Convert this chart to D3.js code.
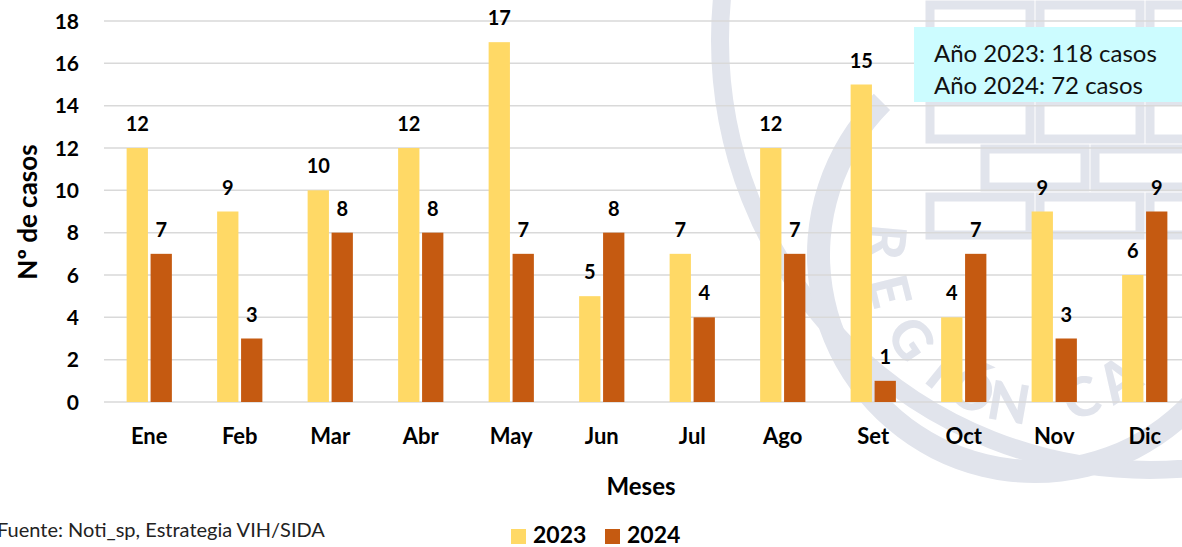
<!DOCTYPE html>
<html>
<head>
<meta charset="utf-8">
<script src="https://cdn.jsdelivr.net/npm/d3@7"></script>
<style>
  body { margin: 0; background: #fff; }
  svg { display: block; font-family: Lato, "Open Sans", sans-serif; }
  .tick-lbl { font-size: 21px; font-weight: 700; fill: #000; }
  .cat-lbl { font-size: 22px; font-weight: 700; fill: #000; text-anchor: middle; }
  .val-lbl { font-size: 20px; font-weight: 700; fill: #000; text-anchor: middle; }
</style>
</head>
<body>
<svg id="chart"></svg>
<script>
'use strict';

// data
const months = ['Ene', 'Feb', 'Mar', 'Abr', 'May', 'Jun', 'Jul', 'Ago', 'Set', 'Oct', 'Nov', 'Dic'];
const series = ['2023', '2024'];
const cases2023 = [12, 9, 10, 12, 17, 5, 7, 12, 15, 4, 9, 6];
const cases2024 = [7, 3, 8, 8, 7, 8, 4, 7, 1, 7, 3, 9];
const yTicks = [0, 2, 4, 6, 8, 10, 12, 14, 16, 18];
const colors = ['#FFD966', '#C55A11'];
const boxLines = ['Año 2023: 118 casos', 'Año 2024: 72 casos'];

const W = 1182, H = 547;
const plot = { left: 104, right: 1190, top: 21, bottom: 402 };
const wmColor = '#e1e4ec';

const svg = d3.select('#chart').attr('width', W).attr('height', H);

const x = d3.scaleBand().domain(months).range([plot.left, plot.right]).paddingInner(0.5).paddingOuter(0.25);
const xs = d3.scaleBand().domain(series).range([0, x.bandwidth()]).paddingInner(0.111);
const y = d3.scaleLinear().domain([0, 18]).range([plot.bottom, plot.top]);

// faint seal watermark in the background
const wm = svg.append('g').attr('fill', 'none').attr('stroke', wmColor);
wm.append('circle').attr('cx', 1150).attr('cy', 40).attr('r', 430).attr('stroke-width', 18);
const seal = { cx: 1035, cy: 255, r: 150 };
const ringArc = d3.arc().innerRadius(205).outerRadius(228)
  .startAngle(Math.PI * 0.55).endAngle(Math.PI * 1.75);
wm.append('path').attr('transform', 'translate(' + seal.cx + ',' + seal.cy + ')')
  .attr('d', ringArc()).attr('fill', wmColor).attr('stroke', 'none');
// bricks
[0, 1, 2, 3, 4].forEach(r => {
  const off = r % 2 ? 55 : 0;
  for (let c = 0; c < 4; c++) {
    wm.append('rect')
      .attr('x', 930 + off + c * 110).attr('y', 5 + r * 48)
      .attr('width', 100).attr('height', 38)
      .attr('stroke-width', 9);
  }
});
// seal lettering, one glyph at a time along the circle (rest runs off the page)
const wmLetters = 'REGIÓN CA'.split('');
const wmAngles = [185, 166, 146, 129, 115, 100, null, 72, 56];
wmLetters.forEach((ch, i) => {
  if (ch === ' ') return;
  const a = wmAngles[i] * Math.PI / 180;
  const px = seal.cx + seal.r * Math.cos(a), py = seal.cy + seal.r * Math.sin(a);
  svg.append('text')
    .attr('transform', 'translate(' + px + ',' + py + ') rotate(' + (wmAngles[i] - 90) + ')')
    .attr('text-anchor', 'middle').attr('dy', '0.35em')
    .attr('font-size', 54).attr('font-weight', 900).attr('fill', wmColor)
    .text(ch);
});

// gridlines
svg.append('g').selectAll('line').data(yTicks).join('line')
  .attr('x1', plot.left).attr('x2', W)
  .attr('y1', d => y(d)).attr('y2', d => y(d))
  .attr('stroke', '#d9d9d9').attr('stroke-width', 1.5);

// y axis labels
svg.append('g').selectAll('text').data(yTicks).join('text')
  .attr('class', 'tick-lbl')
  .attr('x', 79).attr('y', d => y(d)).attr('dy', '0.36em')
  .attr('text-anchor', 'end').text(d => d);

// bars
const rows = months.map((m, i) => ({ m, vals: [cases2023[i], cases2024[i]] }));
const groups = svg.append('g').selectAll('g').data(rows).join('g')
  .attr('transform', d => 'translate(' + x(d.m) + ',0)');

groups.selectAll('rect').data(d => d.vals.map((v, k) => ({ s: series[k], v, k }))).join('rect')
  .attr('x', d => xs(d.s)).attr('width', xs.bandwidth())
  .attr('y', d => y(d.v)).attr('height', d => y(0) - y(d.v))
  .attr('fill', d => colors[d.k]);

groups.selectAll('text').data(d => d.vals.map((v, k) => ({ s: series[k], v, k }))).join('text')
  .attr('class', 'val-lbl')
  .attr('x', d => xs(d.s) + xs.bandwidth() / 2)
  .attr('y', d => y(d.v) - 17)
  .text(d => d.v);

// x axis labels
svg.append('g').selectAll('text').data(months).join('text')
  .attr('class', 'cat-lbl')
  .attr('x', d => x(d) + x.bandwidth() / 2).attr('y', 444)
  .text(d => d);

// axis titles
svg.append('text').attr('x', 641).attr('y', 495).attr('text-anchor', 'middle')
  .attr('font-size', 24).attr('font-weight', 700).text('Meses');
svg.append('text').attr('transform', 'translate(37,212) rotate(-90)').attr('text-anchor', 'middle')
  .attr('font-size', 26).attr('font-weight', 700).text('Nº de casos');

// source
svg.append('text').attr('x', -3).attr('y', 537).attr('font-size', 20).attr('fill', '#222')
  .text('Fuente: Noti_sp, Estrategia VIH/SIDA');

// legend
const leg = svg.append('g').selectAll('g').data(series).join('g')
  .attr('transform', (d, i) => 'translate(' + (511 + i * 94) + ',529)');
leg.append('rect').attr('width', 15).attr('height', 15).attr('fill', (d, i) => colors[i]);
leg.append('text').attr('x', 22).attr('y', 14).attr('font-size', 23).attr('font-weight', 700).text(d => d);

// totals box
svg.append('rect').attr('x', 914).attr('y', 27).attr('width', 268).attr('height', 75).attr('fill', '#CCFCFF');
svg.append('g').selectAll('text').data(boxLines).join('text')
  .attr('x', 934).attr('y', (d, i) => 62 + i * 32).attr('font-size', 24).attr('fill', '#111')
  .text(d => d);
</script>
</body>
</html>
